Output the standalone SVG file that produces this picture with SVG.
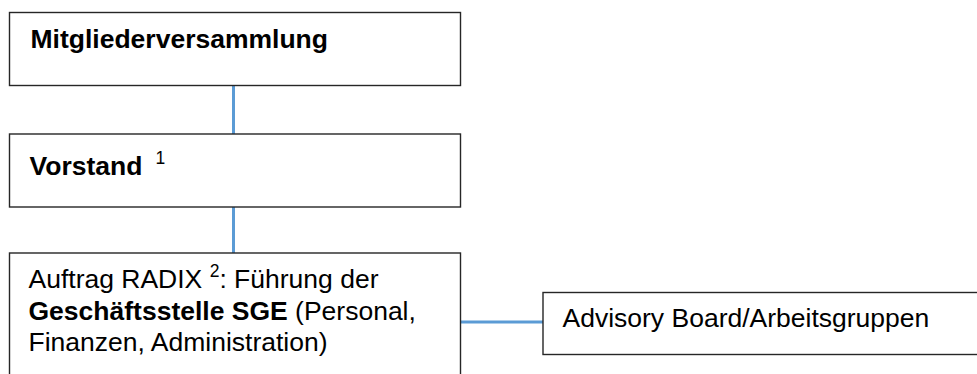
<svg xmlns="http://www.w3.org/2000/svg" width="977" height="374" viewBox="0 0 977 374">
<style>
.box{fill:#ffffff;stroke:#262626;stroke-width:1.4}
.conn{stroke:#5B9BD5;stroke-width:3;fill:none}
text{font-family:"Liberation Sans",Arial,sans-serif;font-size:26.5px;fill:#000}
.b{font-weight:bold}
.sup{font-size:17.5px}
</style>
<rect width="977" height="374" fill="#ffffff"/>
<g id="connectors">
<line class="conn" x1="233.5" y1="86" x2="233.5" y2="134"/>
<line class="conn" x1="233.5" y1="207" x2="233.5" y2="253"/>
<line class="conn" x1="461" y1="322" x2="543" y2="322"/>
</g>
<g id="mitgliederversammlung">
<rect class="box" x="9.5" y="12.5" width="451" height="73"/>
<text class="b" x="30.5" y="48">Mitgliederversammlung</text>
</g>
<g id="vorstand">
<rect class="box" x="9.5" y="134" width="451" height="73"/>
<text class="b" x="29.5" y="175">Vorstand</text>
<text class="sup" x="155.5" y="163.5">1</text>
</g>
<g id="geschaeftsstelle">
<rect class="box" x="9.5" y="253" width="451" height="140"/>
<text x="28.5" y="287.5">Auftrag RADIX <tspan class="sup" dy="-11">2</tspan><tspan dy="11">: Führung der</tspan></text>
<text x="28.5" y="319.5"><tspan class="b">Geschäftsstelle SGE</tspan> (Personal,</text>
<text x="28.5" y="351">Finanzen, Administration)</text>
</g>
<g id="advisory">
<rect class="box" x="543" y="292.5" width="445" height="62"/>
<text x="562.5" y="326.7">Advisory Board/Arbeitsgruppen</text>
</g>
</svg>
